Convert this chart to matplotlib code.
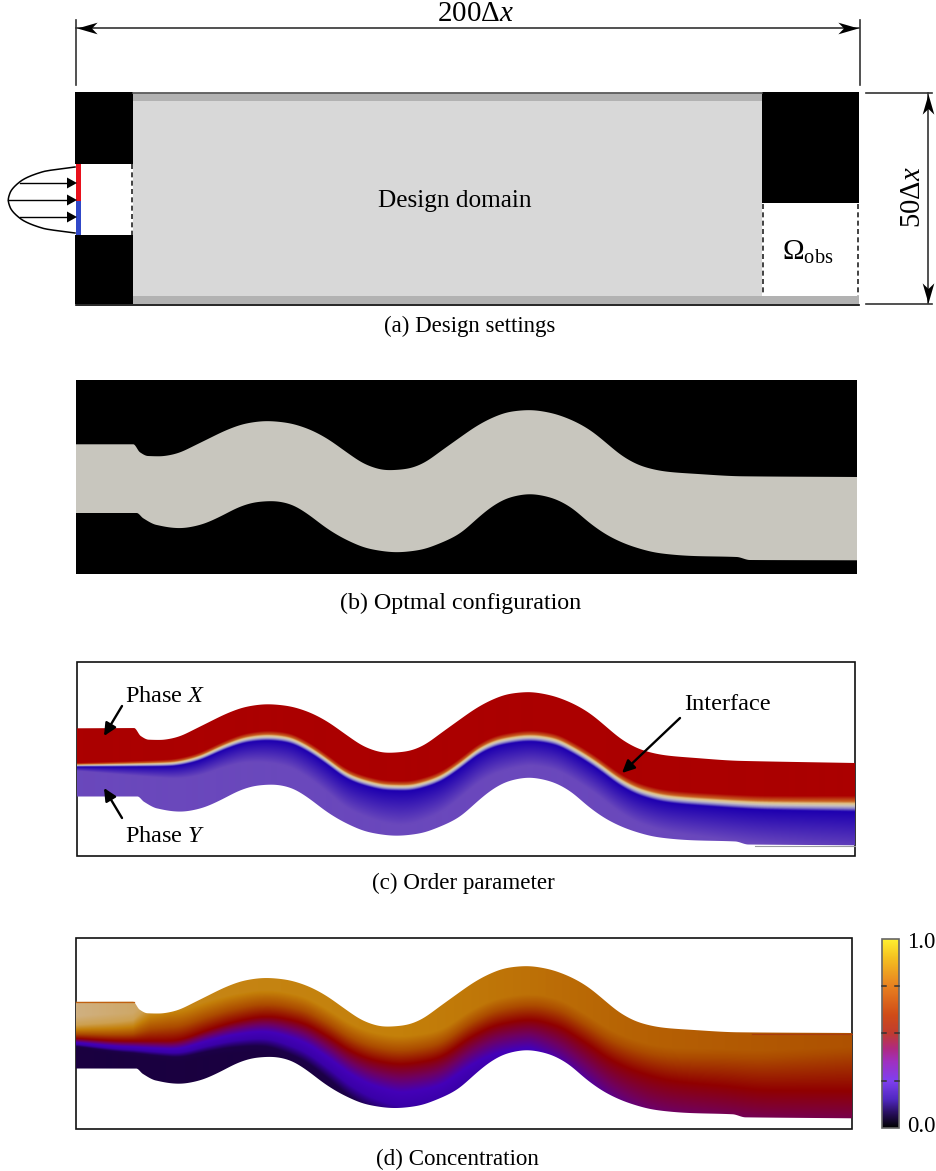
# channel design figure: settings, optimal shape, order parameter, concentration

import numpy as np
from matplotlib import pyplot as plt
from matplotlib.colors import LinearSegmentedColormap
from matplotlib.markers import MarkerStyle
from matplotlib.patches import Polygon, Rectangle
from matplotlib.path import Path
from matplotlib.transforms import Affine2D

plt.rcParams['font.family'] = ['Liberation Serif', 'DejaVu Serif']
plt.rcParams['mathtext.fontset'] = 'custom'
plt.rcParams['mathtext.rm'] = 'Liberation Serif'
plt.rcParams['mathtext.it'] = 'Liberation Serif:italic'

# channel walls, in image pixels
top_x = [76, 133.3, 140, 148, 160, 176.7, 193, 210, 226.7, 246.7, 266.7, 286.7, 306.7, 326.7, 346.7,
         366.7, 386.7, 406.7, 423.3, 440, 460, 476.7, 493.3, 510, 530, 550, 570, 590, 606.7, 623.3,
         643.3, 666.7, 693.3, 743.3, 857]
top_y = [444.3, 444.3, 452.3, 456, 456.3, 453.7, 446.3, 438, 430, 423.3, 421, 422.7, 428.3, 438.3,
         452.3, 465, 470.3, 469, 463.3, 451.7, 437.5, 426, 417.3, 411.7, 410, 412.7, 419.3, 430,
         443.3, 456.7, 466.7, 471.7, 473.7, 476.3, 477]
bot_x = [76, 136.7, 143.3, 156.7, 180, 200, 220, 240, 256.7, 273.3, 290, 306.7, 326.7, 346.7, 370,
         396.7, 420, 440, 460, 476.7, 493.3, 510, 530, 550, 570, 590, 610, 633.3, 660, 693, 736.7,
         750, 857]
bot_y = [513, 513, 518.3, 525, 528.3, 525, 516.7, 506.7, 502, 501, 504, 513.3, 528.3, 540, 549,
         552.3, 550, 543.3, 533.5, 519, 505.7, 497.3, 494, 497.3, 506.7, 523.3, 536.7, 546.7, 553.3,
         556, 557, 560, 560.3]

# interface in panel (c)
iface_x = [77, 127, 170, 193, 227, 247, 267, 287, 307, 327, 347, 367, 387, 407, 427, 440, 460,
           480, 500, 530, 553, 573, 597, 620, 640, 667, 707, 770, 855]
iface_y = [766, 765.3, 764.3, 760, 745.7, 739.3, 737.3, 739.3, 748.3, 761.7, 776, 783.3, 787.3,
           787.7, 783.3, 778.3, 765, 750, 741.7, 737.7, 740.7, 750, 765, 781.7, 791.7, 798.3,
           801.7, 805, 806]
fade_x = [77, 170, 267, 400, 530, 650, 855]
fade_px = [4, 12, 22, 34, 24, 28, 40]
thick_x = [77, 170, 267, 400, 530, 700, 855]
thick_px = [0.4, 0.7, 1.0, 1.0, 1.1, 1.3, 1.6]

# concentration front in panel (d)
front_x = [77, 127, 170, 210, 233, 267, 300, 327, 353, 377, 400, 427, 440, 473, 500, 530, 557,
           583, 613, 640, 673, 723, 770, 852]
front_y = [1039.3, 1041.7, 1041.7, 1030, 1023, 1017.3, 1023, 1036.7, 1053, 1061.7, 1065, 1061.7,
           1058, 1036.7, 1025, 1020.7, 1026.7, 1041.7, 1061.7, 1073.3, 1081.7, 1086.7, 1091, 1091.7]
spread_x = [77, 133, 150, 170, 267, 400, 530, 650, 852]
spread_up = [9, 14, 24, 28, 25, 28, 30, 45, 80]
spread_down = [4, 6, 7, 8, 15, 28, 28, 60, 70]
ceiling = [1.0, 0.9, 0.78, 0.72, 0.71, 0.70, 0.67, 0.64, 0.61]

# colours
phase_pos = [0, 3.5, 5, 6.5, 8, 10, 36]
phase_col = ['#ab0000', '#c86020', '#e2c488', '#c8c0c0', '#8c84c8', '#1e00b0', '#6a48bc']
conc_pos = [0, 0.1, 0.2, 0.3, 0.4, 0.5, 0.6, 0.7, 0.8, 1.0]
conc_col = ['#1a0040', '#1c0048', '#3a00a8', '#4400b8', '#700060', '#900000', '#ac4c00',
            '#c4800a', '#cda050', '#d0b080']
bar_pos = [0, 0.08, 0.15, 0.25, 0.35, 0.42, 0.5, 0.6, 0.75, 0.9, 1.0]
bar_col = ['#000000', '#2a1060', '#5028c0', '#8040f0', '#a030c0', '#b02a80', '#c03c30',
           '#d04c18', '#e88020', '#f5c020', '#fff030']

# inlet velocity profile of panel (a)
inlet_y = [167, 171.7, 181.7, 193, 200, 207, 218.3, 228.3, 233]
inlet_x = [75, 43, 20, 10, 8.3, 10, 20, 43, 75]
inlet_arrow_y = [183, 200, 217]
inlet_arrow_x = [20, 8, 20]

bar_ticks = [986, 1033, 1081]

fig = plt.figure(figsize=(9.36, 11.71), dpi=100)
ax = fig.add_axes([0, 0, 1, 1])


def spline(xs, ys, grid):
    # monotone cubic through the read points, only to draw smooth curves between them
    xs, ys = np.asarray(xs, float), np.asarray(ys, float)
    s = np.diff(ys) / np.diff(xs)
    m = np.zeros_like(ys)
    m[0], m[-1] = s[0], s[-1]
    same = s[:-1] * s[1:] > 0
    m[1:-1][same] = 2 * s[:-1][same] * s[1:][same] / (s[:-1][same] + s[1:][same])
    i = np.clip(np.searchsorted(xs, grid) - 1, 0, len(xs) - 2)
    h = xs[i + 1] - xs[i]
    t = np.clip((grid - xs[i]) / h, 0, 1)
    return ((2 * t**3 - 3 * t**2 + 1) * ys[i] + (t**3 - 2 * t**2 + t) * h * m[i]
            + (-2 * t**3 + 3 * t**2) * ys[i + 1] + (t**3 - t**2) * h * m[i + 1])


def wall(xs, ys, grid):
    # takes the reading jitter out of the long bends, leaves the kinks at both ends
    y = spline(xs, ys, grid)
    box = np.ones(25) / 25
    soft = np.convolve(np.convolve(np.pad(y, 24, mode='edge'), box, 'same'), box, 'same')[24:-24]
    w = np.clip((grid - 155) / 20, 0, 1) * np.clip((725 - grid) / 20, 0, 1)
    return (1 - w) * y + w * soft


def map_x(x, left, right):
    return left + (np.asarray(x, float) - 76) * (right - left) / 781


def make_map(pos, col):
    pos = np.array(pos, float)
    return LinearSegmentedColormap.from_list('m', list(zip(pos / pos[-1], col)), N=512)


def channel(left, right, dy_top, dy_bot):
    g = np.arange(76, 857.25, 0.5)
    dt = np.interp(g, [76, 530, 857], dy_top)
    db = np.interp(g, [76, 530, 857], dy_bot)
    upper = np.column_stack([map_x(g, left, right), wall(top_x, top_y, g) + dt])
    lower = np.column_stack([map_x(g, left, right), wall(bot_x, bot_y, g) + db])
    return Polygon(np.vstack([upper, lower[::-1]]), closed=True, transform=ax.transData,
                   fc='none', ec='none')


def rect(x0, y0, x1, y1, color, z=1):
    ax.add_patch(Rectangle((x0, y0), x1 - x0, y1 - y0, fc=color, ec='none', zorder=z))


def frame(x0, y0, x1, y1):
    ax.add_patch(Rectangle((x0, y0), x1 - x0, y1 - y0, fc='none', ec='#111111', lw=1.2, zorder=1))


def stealth(x, y, angle):
    # barbed arrow head, tip at x, y, angle in screen degrees
    p = Path([(0, 0), (-1, 0.29), (-0.72, 0), (-1, -0.29), (0, 0)])
    m = MarkerStyle(p, transform=Affine2D().rotate_deg(angle))
    ax.plot([x], [y], marker=m, ms=29, color='k', mew=0, zorder=6, clip_on=False)


def pointer(x0, y0, x1, y1):
    ax.annotate('', xy=(x1, y1), xytext=(x0, y0), zorder=7,
                arrowprops=dict(arrowstyle='-|>,head_length=0.75,head_width=0.36', color='k',
                                lw=1.7, shrinkA=0, shrinkB=0))


# (a) design settings
rect(75, 92, 859, 304, 'white')
rect(133, 92, 762, 304, '#d8d8d8')
rect(133, 93, 762, 101, '#b2b2b2')
rect(133, 296, 859, 304, '#b2b2b2')
rect(762, 203, 858, 295, 'white')
rect(75, 92, 133, 164, 'black')
rect(75, 235, 133, 304, 'black')
rect(762, 92, 859, 203, 'black')
rect(76, 164, 81, 201, '#e8101c', 2)
rect(76, 201, 81, 235, '#3048c8', 2)
ax.plot([133, 762], [92.5, 92.5], color='#555555', lw=1.2)
ax.plot([76, 859], [304.5, 304.5], color='k', lw=1.2)
for xd, ya, yb in [(131.5, 164, 235), (763, 204, 295), (857.5, 204, 296)]:
    ax.plot([xd, xd], [ya, yb], color='#222222', lw=1.2, ls=(0, (3, 2)), zorder=3)
g = np.arange(167, 233.25, 0.25)
ax.plot(spline(inlet_y, inlet_x, g), g, color='k', lw=1.1)
for ya, xa in zip(inlet_arrow_y, inlet_arrow_x):
    ax.plot([xa, 70], [ya, ya], color='k', lw=1.0)
    ax.add_patch(Polygon([(77, ya), (67, ya - 5.5), (67, ya + 5.5)], fc='k', ec='none', zorder=4))

# dimension lines
ax.plot([76, 76], [20, 85], color='#333333', lw=1.2)
ax.plot([859.5, 859.5], [20, 85], color='#333333', lw=1.2)
ax.plot([76, 859], [28, 28], color='#333333', lw=1.2)
stealth(77, 28, 180)
stealth(858, 28, 0)
ax.plot([866, 932], [92.5, 92.5], color='#333333', lw=1.2)
ax.plot([866, 932], [304, 304], color='#333333', lw=1.2)
ax.plot([927.5, 927.5], [93, 303], color='#333333', lw=1.2)
stealth(927.5, 94, 90)
stealth(927.5, 303, -90)

# (b) optimal configuration
rect(76, 380, 857, 574, 'black')
shape = channel(76, 857, [0, 0, 0], [0, 0, 0])
shape.set_facecolor('#c8c6be')
ax.add_patch(shape)

# (c) order parameter
frame(76.7, 661.7, 855, 855.7)
gx = np.arange(76.5, 856, 0.5)
gy = np.arange(680, 850, 0.5)
X, Y = np.meshgrid(gx, gy)
mid = wall(iface_x, iface_y, gx)[None, :]
thick = np.interp(gx, thick_x, thick_px)[None, :]
fade = np.interp(gx, fade_x, fade_px)[None, :]
off = (Y - mid) / thick
below = np.clip((Y - mid - 4 * thick) / fade, 0, 1)
eff = np.where(off < 4, off + 6, 10 + 26 * below)
im = ax.imshow(eff, cmap=make_map(phase_pos, phase_col), vmin=0, vmax=36, aspect='auto',
               extent=[gx[0], gx[-1], gy[-1], gy[0]], zorder=2)
clip_c = channel(77, 855, [284, 282, 286], [283.5, 283.5, 285])
ax.add_patch(clip_c)
im.set_clip_path(clip_c)
ax.plot([755, 855], [845.5, 845.5], color='#9a9aa0', lw=0.8, zorder=3)

# (d) concentration
frame(75.7, 937.7, 852, 1129)
gx = np.arange(76, 852.5, 0.5)
gy = np.arange(950, 1125, 0.5)
X, Y = np.meshgrid(gx, gy)
d = Y - wall(front_x, front_y, gx)[None, :]
up = 0.5 - 0.2 * d / np.interp(gx, spread_x, spread_up)[None, :]
down = 0.5 - 0.2 * d / np.interp(gx, spread_x, spread_down)[None, :]
val = np.where(d < 0, np.minimum(up, np.interp(gx, spread_x, ceiling)[None, :]), down)
im = ax.imshow(val, cmap=make_map(conc_pos, conc_col), vmin=0, vmax=1, aspect='auto',
               extent=[gx[0], gx[-1], gy[-1], gy[0]], zorder=2)
clip_d = channel(76, 852, [557.5, 556, 556], [555.5, 556, 558])
ax.add_patch(clip_d)
im.set_clip_path(clip_d)
ax.plot([76, 134], [1001.5, 1001.5], color='#c06010', lw=0.9, zorder=3)
ax.plot([752, 852], [1033.5, 1033.5], color='#a83a10', lw=0.8, zorder=3)

# colour bar
ramp = np.linspace(1, 0, 256).reshape(-1, 1)
ax.imshow(ramp, cmap=make_map(bar_pos, bar_col), vmin=0, vmax=1, aspect='auto',
          extent=[882, 899, 1128, 939], zorder=2)
ax.add_patch(Rectangle((882, 938.5), 17, 189.5, fc='none', ec='#666666', lw=1.2, zorder=3))
for yt in bar_ticks:
    ax.plot([882, 886], [yt, yt], color='#333333', lw=1.1, zorder=4)
    ax.plot([895, 899], [yt, yt], color='#333333', lw=1.1, zorder=4)

# text
ax.text(475, 14, r'200$\mathrm{\Delta}x$', fontsize=20.9, ha='center', va='center')
ax.text(913, 197, r'50$\mathrm{\Delta}x$', fontsize=20.6, ha='center', va='center', rotation=90)
ax.text(455, 201, 'Design domain', fontsize=18.2, ha='center', va='center')
ax.text(808, 252, r'$\mathrm{\Omega}_{\mathrm{obs}}$', fontsize=21, ha='center', va='center')
ax.text(470, 326, '(a) Design settings', fontsize=16.5, ha='center', va='center')
ax.text(460.5, 603, '(b) Optmal configuration', fontsize=17.3, ha='center', va='center')
ax.text(463, 883, '(c) Order parameter', fontsize=16.6, ha='center', va='center')
ax.text(457.5, 1159, '(d) Concentration', fontsize=16.6, ha='center', va='center')
ax.text(125, 696, 'Phase $X$', fontsize=17.5, ha='left', va='center')
ax.text(125, 836, 'Phase $Y$', fontsize=17.5, ha='left', va='center')
ax.text(684, 705, 'Interface', fontsize=17.6, ha='left', va='center')
ax.text(907, 943, '1.0', fontsize=16.5, ha='left', va='center')
ax.text(907, 1127, '0.0', fontsize=16.5, ha='left', va='center')

pointer(122, 706, 104, 736)
pointer(122, 818, 104, 788)
pointer(680, 718, 622, 773)

ax.set_xlim(0, 936)
ax.set_ylim(1171, 0)
ax.axis('off')

plt.savefig('out.png', dpi=100)
